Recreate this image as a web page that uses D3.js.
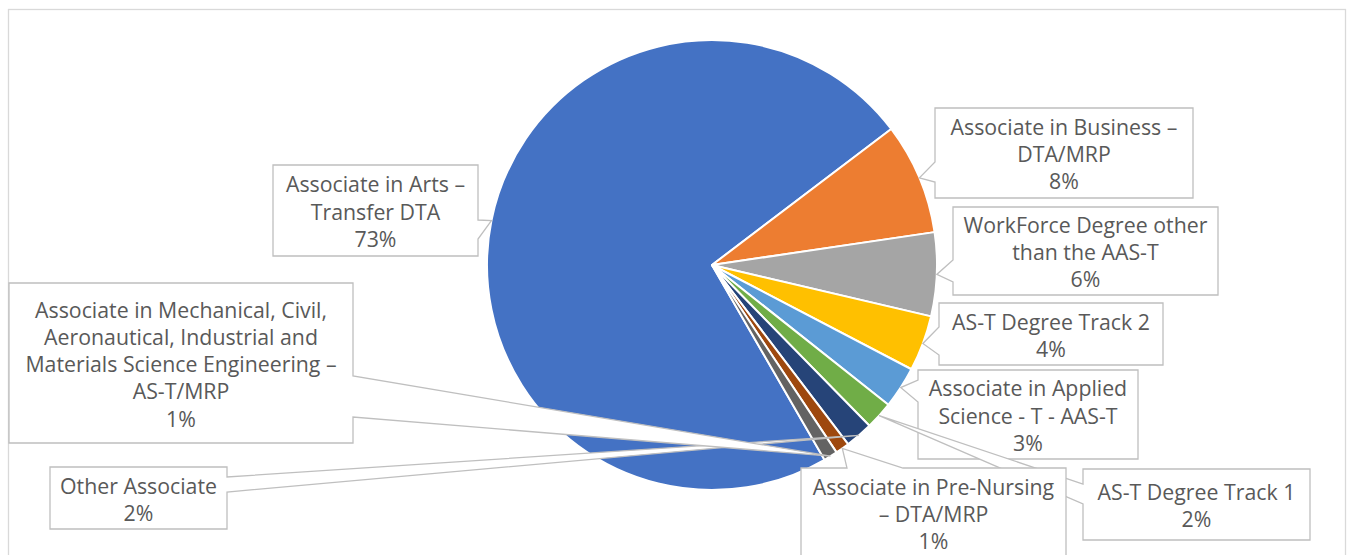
<!DOCTYPE html>
<html>
<head>
<meta charset="utf-8">
<script src="https://cdn.jsdelivr.net/npm/d3@7"></script>
<style>
  html, body { margin: 0; padding: 0; background: #ffffff; }
  svg { display: block; }
</style>
</head>
<body>
<svg id="chart" width="1353" height="555"></svg>
<script>
// Degree programmes and their share of students (percent)
const categories = [
  "Associate in Arts – Transfer DTA",
  "Associate in Business – DTA/MRP",
  "WorkForce Degree other than the AAS-T",
  "AS-T Degree Track 2",
  "Associate in Applied Science - T - AAS-T",
  "AS-T Degree Track 1",
  "Other Associate",
  "Associate in Pre-Nursing – DTA/MRP",
  "Associate in Mechanical, Civil, Aeronautical, Industrial and Materials Science Engineering – AS-T/MRP"
];
const values = [73, 8, 6, 4, 3, 2, 2, 1, 1];

// How each category name wraps inside its callout
const labelLines = [
  ["Associate in Arts –", "Transfer DTA"],
  ["Associate in Business –", "DTA/MRP"],
  ["WorkForce Degree other", "than the AAS-T"],
  ["AS-T Degree Track 2"],
  ["Associate in Applied", "Science - T - AAS-T"],
  ["AS-T Degree Track 1"],
  ["Other Associate"],
  ["Associate in Pre-Nursing", "– DTA/MRP"],
  ["Associate in Mechanical, Civil,", "Aeronautical, Industrial and", "Materials Science Engineering –", "AS-T/MRP"]
];

const colors = ["#4472C4", "#ED7D31", "#A5A5A5", "#FFC000", "#5B9BD5",
                "#70AD47", "#264478", "#9E480E", "#636363"];

// Callout boxes: rectangle plus the stretch of one side the pointer leaves from
const callouts = [
  { x: 273,  y: 165, w: 205, h: 91,  side: "right", a: 220, b: 239 },
  { x: 935,  y: 108, w: 258, h: 90,  side: "left",  a: 162, b: 182 },
  { x: 953,  y: 207, w: 265, h: 88,  side: "left",  a: 260, b: 282 },
  { x: 939,  y: 303, w: 224, h: 62,  side: "left",  a: 327, b: 355 },
  { x: 918,  y: 370, w: 220, h: 89,  side: "left",  a: 380, b: 402 },
  { x: 1083, y: 469, w: 227, h: 71,  side: "left",  a: 484, b: 504 },
  { x: 50,   y: 467, w: 177, h: 62,  side: "right", a: 477, b: 492 },
  { x: 801,  y: 468, w: 265, h: 90,  side: "top",   a: 847, b: 903 },
  { x: 9,    y: 283, w: 344, h: 160, side: "right", a: 376, b: 417 }
];

const svg = d3.select("#chart");
const cx = 712, cy = 265, radius = 225;
const fontSize = 21.3, lineH = 27.2;

// chart area frame
svg.append("rect")
  .attr("x", 8.5).attr("y", 9.5)
  .attr("width", 1337).attr("height", 600)
  .attr("fill", "#ffffff")
  .attr("stroke", "#d9d9d9").attr("stroke-width", 1.3);

const data = categories.map((c, i) => ({ name: c, value: values[i], color: colors[i], lines: labelLines[i], box: callouts[i] }));

const start = 150 * Math.PI / 180;
const pie = d3.pie().value(d => d.value).sort(null)
  .startAngle(start).endAngle(start + 2 * Math.PI);
const arcs = pie(data);

const arc = d3.arc().innerRadius(0).outerRadius(radius);
const rim = d3.arc().innerRadius(radius).outerRadius(radius);

const g = svg.append("g").attr("transform", `translate(${cx},${cy})`);
g.selectAll("path.slice")
  .data(arcs)
  .join("path")
  .attr("class", "slice")
  .attr("d", arc)
  .attr("fill", d => d.data.color)
  .attr("stroke", "#ffffff")
  .attr("stroke-width", 2)
  .attr("stroke-linejoin", "round");

function calloutPath(bx, tip) {
  const { x, y, w, h, side, a, b } = bx;
  const p = d3.path();
  if (side === "left") {
    p.moveTo(x, y); p.lineTo(x + w, y); p.lineTo(x + w, y + h); p.lineTo(x, y + h);
    p.lineTo(x, b); p.lineTo(tip[0], tip[1]); p.lineTo(x, a);
  } else if (side === "right") {
    p.moveTo(x, y); p.lineTo(x + w, y); p.lineTo(x + w, a); p.lineTo(tip[0], tip[1]);
    p.lineTo(x + w, b); p.lineTo(x + w, y + h); p.lineTo(x, y + h);
  } else {
    p.moveTo(x, y); p.lineTo(a, y); p.lineTo(tip[0], tip[1]); p.lineTo(b, y);
    p.lineTo(x + w, y); p.lineTo(x + w, y + h); p.lineTo(x, y + h);
  }
  p.closePath();
  return p.toString();
}

const fmt = d3.format(".0%");
const total = d3.sum(values);

const labels = svg.append("g").selectAll("g.callout")
  .data(arcs)
  .join("g")
  .attr("class", "callout");

labels.append("path")
  .attr("d", d => {
    const c = rim.centroid(d);
    return calloutPath(d.data.box, [c[0] + cx, c[1] + cy]);
  })
  .attr("fill", "#ffffff")
  .attr("stroke", "#bfbfbf")
  .attr("stroke-width", 1.3)
  .attr("stroke-linejoin", "miter");

labels.each(function(d) {
  const bx = d.data.box;
  const lines = d.data.lines.concat([fmt(d.data.value / total)]);
  const mid = bx.y + bx.h / 2 + 1.5;
  const t = d3.select(this).append("text")
    .attr("text-anchor", "middle")
    .attr("font-family", "'Open Sans', sans-serif")
    .attr("font-size", fontSize)
    .attr("fill", "#595959");
  lines.forEach((ln, i) => {
    t.append("tspan")
      .attr("x", bx.x + bx.w / 2)
      .attr("y", mid + (i - (lines.length - 1) / 2) * lineH + fontSize * 0.36)
      .text(ln);
  });
});
</script>
</body>
</html>
